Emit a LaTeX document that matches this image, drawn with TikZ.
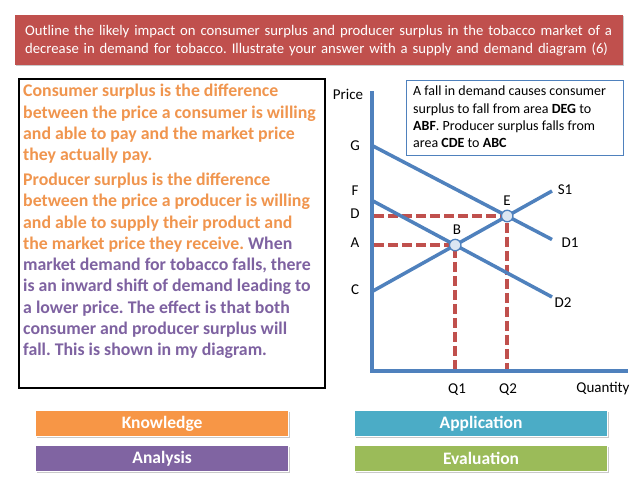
\documentclass[tikz,border=0pt]{standalone}
\usepackage{fontspec}
\setmainfont{Carlito}
\usetikzlibrary{shadows}
\definecolor{titred}{HTML}{C0504D}
\definecolor{orangeK}{HTML}{F79646}
\definecolor{purpleA}{HTML}{8064A2}
\definecolor{cyanA}{HTML}{4BACC6}
\definecolor{greenE}{HTML}{9BBB59}
\definecolor{curveblue}{HTML}{4F81BD}
\definecolor{dashred}{HTML}{C0504D}
\definecolor{ptfill}{HTML}{DCE6F2}
\definecolor{txtorange}{HTML}{F0954E}
\definecolor{txtpurple}{HTML}{7E62A1}
\begin{document}
\frenchspacing
\begin{tikzpicture}[x=1pt,y=-1pt,
  softshadow/.style={drop shadow={shadow xshift=1.2pt,shadow yshift=-1.2pt,opacity=0.35,fill=black!60}},
  catbox/.style={minimum width=253pt,minimum height=26pt,inner sep=0pt,draw=white,line width=1.2pt,
     text=white,font=\bfseries\fontsize{17.5}{19}\selectfont,softshadow},
  axisline/.style={draw=curveblue,line width=3.8pt},
  curve/.style={draw=curveblue,line width=3.5pt},
  dashline/.style={draw=dashred,line width=3.6pt,dash pattern=on 10pt off 4pt},
  pt/.style={circle,draw=curveblue,fill=ptfill,line width=1.3pt,minimum size=11.5pt,inner sep=0pt},
  lbl/.style={font=\fontsize{15}{17}\selectfont,inner sep=0pt}]
\useasboundingbox (0,0) rectangle (638,479);
\fill[white] (0,0) rectangle (638,479);

% title
\node[fill=titred,minimum width=608pt,minimum height=50pt,anchor=north west,softshadow,
  text=white,align=left,inner xsep=10pt,text width=588pt,
  font=\fontsize{14.7}{18}\selectfont] (title) at (15,15)
  {Outline the likely impact on consumer surplus and producer surplus in the tobacco market of a\\
   decrease in demand for tobacco. Illustrate your answer with a supply and demand diagram (6)};

% left text box
\node[draw=black,line width=1.6pt,fill=white,minimum width=306pt,minimum height=309pt,
  anchor=north west,softshadow,inner sep=0pt] (leftbox) at (18,78) {};
\node[anchor=north west,inner sep=0pt,align=left,font=\bfseries\fontsize{17.8}{21.3}\selectfont]
  (lefttext) at (23,84)
  {\color{txtorange}Consumer surplus is the difference\\
   \color{txtorange}between the price a consumer is willing\\
   \color{txtorange}and able to pay and the market price\\
   \color{txtorange}they actually pay.\\[3.5pt]
   \color{txtorange}Producer surplus is the difference\\
   \color{txtorange}between the price a producer is willing\\
   \color{txtorange}and able to supply their product and\\
   \color{txtorange}the market price they receive. \color{txtpurple}When\\
   \color{txtpurple}market demand for tobacco falls, there\\
   \color{txtpurple}is an inward shift of demand leading to\\
   \color{txtpurple}a lower price. The effect is that both\\
   \color{txtpurple}consumer and producer surplus will\\
   \color{txtpurple}fall. This is shown in my diagram.};

% right text box
\node[draw=curveblue,line width=1pt,fill=white,anchor=north west,minimum width=217pt,minimum height=75pt,
  inner sep=0pt] (rightbox) at (406,80) {};
\node[anchor=north west,inner sep=0pt,align=left,font=\fontsize{14}{17.3}\selectfont]
  (righttext) at (413,86)
  {A fall in demand causes consumer\\
   surplus to fall from area \textbf{DEG} to\\
   \textbf{ABF}. Producer surplus falls from\\
   area \textbf{CDE} to \textbf{ABC}};

% graph coordinates
\coordinate (top) at (372,91);
\coordinate (O) at (372,371);
\coordinate (xend) at (628,371);
\coordinate (Gp) at (373,146);
\coordinate (D1e) at (552,239.5);
\coordinate (Fp) at (373,201);
\coordinate (D2e) at (552,297);
\coordinate (Cp) at (373,291);
\coordinate (S1e) at (552,191);
\coordinate (Ep) at (507.2,216);
\coordinate (Bp) at (455.2,245.1);
\coordinate (Dy) at (374,216);
\coordinate (Ex) at (507.2,369);
\coordinate (Ay) at (374,245.1);
\coordinate (Bx) at (455.2,369);

% dashed guides
\draw[dashline] (Dy) -- (Ep) -- (Ex);
\draw[dashline] (Ay) -- (Bp) -- (Bx);

% axes
\draw[axisline] (top) -- (O) -- (xend);

% curves
\draw[curve] (Gp) -- (D1e);
\draw[curve] (Fp) -- (D2e);
\draw[curve] (Cp) -- (S1e);

% points
\node[pt] (E) at (Ep) {};
\node[pt] (B) at (Bp) {};

% labels
\node[lbl] (price) at (348,94) {Price};
\node[lbl] (lG) at (355,146) {G};
\node[lbl] (lF) at (355,191) {F};
\node[lbl] (lD) at (355,214) {D};
\node[lbl] (lA) at (355,243) {A};
\node[lbl] (lC) at (355,290) {C};
\node[lbl] (lE) at (507,201) {E};
\node[lbl] (lB) at (457,230) {B};
\node[lbl] (lS1) at (565,190) {S1};
\node[lbl] (lD1) at (570,243) {D1};
\node[lbl] (lD2) at (563,303) {D2};
\node[lbl] (lQ1) at (457,390) {Q1};
\node[lbl] (lQ2) at (508,390) {Q2};
\node[lbl] (lQty) at (603,389) {Quantity};

% category boxes
\node[catbox,fill=orangeK,anchor=north west] (know) at (35,410) {Knowledge};
\node[catbox,fill=purpleA,anchor=north west] (anal) at (35,445) {Analysis};
\node[catbox,fill=cyanA,anchor=north west] (appl) at (354,410) {Application};
\node[catbox,fill=greenE,anchor=north west] (eval) at (354,445) {Evaluation};
\end{tikzpicture}
\end{document}
